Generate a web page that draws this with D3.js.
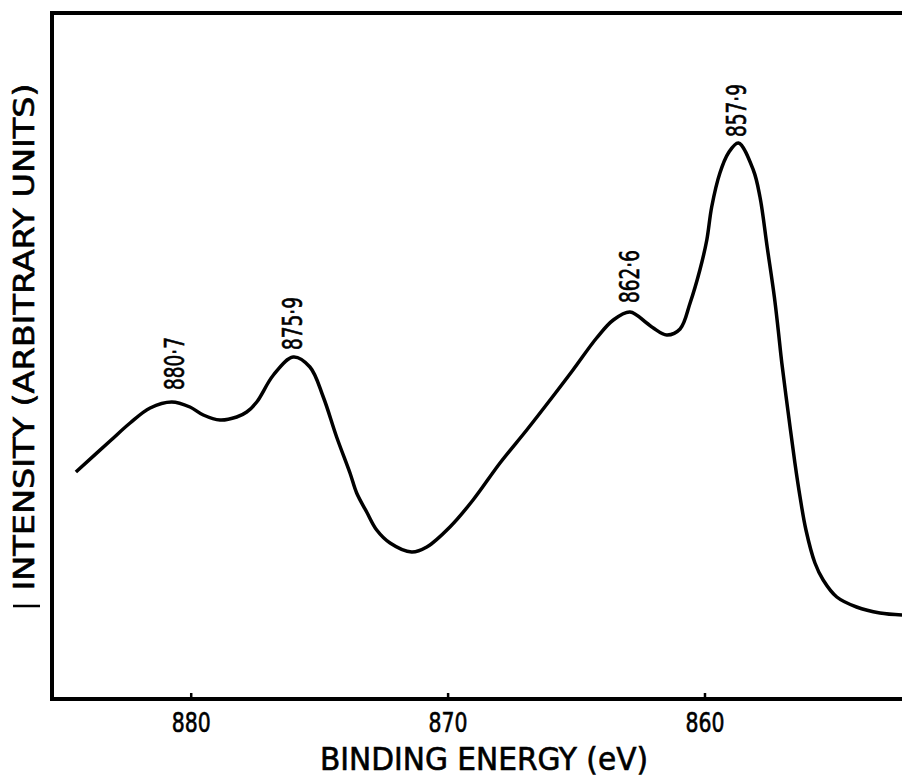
<!DOCTYPE html>
<html>
<head>
<meta charset="utf-8">
<script src="https://cdn.jsdelivr.net/npm/d3@7"></script>
<style>
  body { margin: 0; background: #fff; }
  text { font-family: "Liberation Sans Narrow", "DejaVu Sans Condensed", "Liberation Sans", sans-serif; fill: #000; stroke: #000; stroke-width: 0.6px; }
</style>
</head>
<body>
<svg id="plot"></svg>
<script>
// binding energy (eV), high -> low
const energy = [884.47, 883.14, 882.36, 881.58, 880.74, 880.03, 879.51, 878.86, 878.21, 877.82,
  877.43, 876.78, 876.01, 875.36, 874.84, 874.32, 873.80, 873.54, 873.15, 872.76, 872.24,
  871.40, 870.81, 869.91, 869.01, 867.96, 866.92, 866.01, 865.12, 864.20, 863.55,
  862.90, 862.25, 861.99, 861.47, 860.95, 860.56, 860.18, 859.91, 859.72, 859.40,
  859.07, 858.68, 858.10, 857.84, 857.56, 857.28, 857.13, 856.99, 856.74, 856.48,
  856.28, 856.05, 855.70, 855.38, 854.85, 854.08, 853.17, 852.31];
// intensity, arbitrary units
const intensity = [227, 258, 276, 291, 297, 292, 284, 279, 282, 287,
  297, 324, 342, 332, 302, 262, 226, 206, 187, 169, 156,
  147, 152, 172, 199, 236, 269, 299, 329, 361, 379,
  387, 376, 371, 364, 370, 396, 429, 459, 492, 526,
  546, 556, 529, 502, 452, 402, 369, 336, 286, 236,
  202, 169, 136, 119, 102, 92, 86, 84];

const peakLabels = ["880·7", "875·9", "862·6", "857·9"];
const peakEnergy = [880.61, 876.02, 862.91, 858.72];
const peakLevel = [309, 349, 396, 562];

const xTicks = [880, 870, 860];
const baseMark = 93;

const W = 902, H = 777;
const margin = {top: 13, right: -8, bottom: 78, left: 52};
const width = W - margin.left - margin.right;
const height = H - margin.top - margin.bottom;

const svg = d3.select("#plot").attr("width", W).attr("height", H);

const x = d3.scaleLinear().domain([885.4, 852.0]).range([margin.left, margin.left + width]);
const y = d3.scaleLinear().domain([0, 686]).range([margin.top + height, margin.top]);

const data = energy.map((e, i) => ({e: e, v: intensity[i]}));

// frame: left, top, bottom (right side runs off the page)
svg.append("path")
  .attr("d", `M${W + 10},${margin.top}H${margin.left}V${margin.top + height}H${W + 10}`)
  .attr("fill", "none").attr("stroke", "#000").attr("stroke-width", 4)
  .attr("stroke-linejoin", "miter");

const xAxis = d3.axisBottom(x).tickValues(xTicks).tickSize(-6).tickPadding(14).tickFormat(d3.format("d"));
svg.append("g")
  .attr("transform", `translate(0,${margin.top + height})`)
  .call(xAxis)
  .call(g => g.select(".domain").remove())
  .call(g => g.selectAll(".tick line").attr("stroke", "#000").attr("stroke-width", 2.5))
  .call(g => g.selectAll(".tick text").style("font-size", "27px").attr("fill", "#000")
    .attr("textLength", 39).attr("lengthAdjust", "spacingAndGlyphs"));

// small dash left of the axis
svg.append("line")
  .attr("x1", 13).attr("x2", 40)
  .attr("y1", y(baseMark)).attr("y2", y(baseMark))
  .attr("stroke", "#000").attr("stroke-width", 2.5);

const line = d3.line()
  .x(d => x(d.e))
  .y(d => y(d.v))
  .curve(d3.curveCatmullRom.alpha(0.5));

svg.append("path")
  .datum(data)
  .attr("d", line)
  .attr("fill", "none")
  .attr("stroke", "#000")
  .attr("stroke-width", 3.5)
  .attr("stroke-linejoin", "round");

// peak labels, rotated
svg.selectAll(".peak")
  .data(peakLabels)
  .enter().append("text")
  .attr("class", "peak")
  .attr("transform", (d, i) => `translate(${x(peakEnergy[i]) + 9},${y(peakLevel[i])}) rotate(-90)`)
  .attr("text-anchor", "start")
  .style("font-size", "26px")
  .attr("textLength", 53)
  .attr("lengthAdjust", "spacingAndGlyphs")
  .text(d => d);

svg.append("text")
  .attr("x", 484).attr("y", 770)
  .attr("text-anchor", "middle")
  .style("font-size", "32px")
  .attr("textLength", 328)
  .attr("lengthAdjust", "spacingAndGlyphs")
  .text("BINDING ENERGY (eV)");

svg.append("text")
  .attr("transform", "translate(34,337) rotate(-90)")
  .attr("text-anchor", "middle")
  .style("font-size", "28px")
  .attr("textLength", 507)
  .attr("lengthAdjust", "spacingAndGlyphs")
  .text("INTENSITY (ARBITRARY UNITS)");
</script>
</body>
</html>
